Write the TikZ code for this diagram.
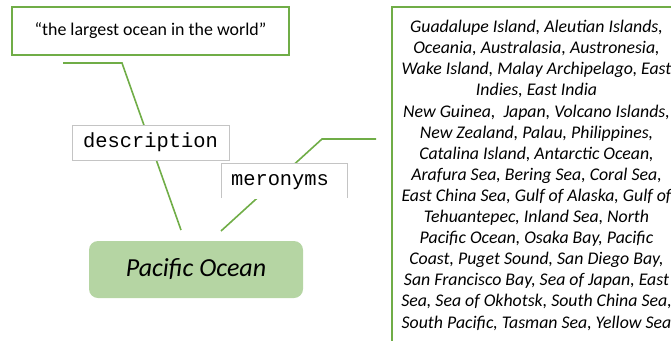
\documentclass[tikz,border=0pt]{standalone}
\usepackage{fontspec}
\setmainfont{Carlito}
\newfontfamily\labelmono{Liberation Mono}
\definecolor{leafgreen}{HTML}{70AD47}
\definecolor{softgreen}{HTML}{B5D5A3}
\definecolor{labelgrey}{HTML}{C4C4C4}
\begin{document}
\begin{tikzpicture}[x=1pt,y=-1pt,
  link/.style={draw=leafgreen,line width=1.6pt},
  framebox/.style={draw=leafgreen,line width=1.6pt,fill=white},
  relbox/.style={draw=labelgrey,line width=0.8pt,fill=white,inner sep=0pt},
  conceptbox/.style={fill=softgreen,rounded corners=9pt,inner sep=0pt}]
\useasboundingbox (0,0) rectangle (671,340);

% connector anchor points
\coordinate (d0) at (181,230);
\coordinate (d1) at (122,63);
\coordinate (d2) at (63,63);
\coordinate (m0) at (221,231);
\coordinate (m1) at (322,139);
\coordinate (m2) at (376,139);

\draw[link] (d0) -- (d1) -- (d2);
\draw[link] (m0) -- (m1) -- (m2);

% definition box
\node[framebox,minimum width=277pt,minimum height=48pt,inner sep=0pt,
      font=\fontsize{17.9}{20}\selectfont] (gloss) at (150.5,31)
  {“the largest ocean in the world”};

% list box, running past the right and bottom edges
\fill[white] (392,7) rectangle (690,350);
\draw[leafgreen,line width=1.6pt] (392,350) -- (392,7) -- (690,7);
\node[anchor=base,align=center,inner sep=0pt,
      font=\fontsize{17.8}{21.1}\selectfont\itshape] (parts) at (536.5,328)
  {Guadalupe Island, Aleutian Islands,\\
   Oceania, Australasia, Austronesia,\\
   Wake Island, Malay Archipelago, East\\
   Indies, East India\\
   New Guinea,\ \ Japan, Volcano Islands,\\
   New Zealand, Palau, Philippines,\\
   Catalina Island, Antarctic Ocean,\\
   Arafura Sea, Bering Sea, Coral Sea,\\
   East China Sea, Gulf of Alaska, Gulf of\\
   Tehuantepec, Inland Sea, North\\
   Pacific Ocean, Osaka Bay, Pacific\\
   Coast, Puget Sound, San Diego Bay,\\
   San Francisco Bay, Sea of Japan, East\\
   Sea, Sea of Okhotsk, South China Sea,\\
   South Pacific, Tasman Sea, Yellow Sea};

% relation labels
\node[relbox,minimum width=157pt,minimum height=35pt,
      font=\labelmono\fontsize{20.4}{22}\selectfont] (desc) at (150.5,142.5)
  {description};
\fill[white] (221,163) rectangle (347,199);
\draw[labelgrey,line width=0.8pt] (221,198) -- (221,163) -- (347,163) -- (347,198);
\node[inner sep=0pt,font=\labelmono\fontsize{20.4}{22}\selectfont] (mero) at (280,182)
  {meronyms};

% concept
\node[conceptbox,minimum width=214pt,minimum height=57pt,
      font=\fontsize{26}{28}\selectfont\itshape] (pac) at (196,269.5)
  {Pacific Ocean};
\end{tikzpicture}
\end{document}
